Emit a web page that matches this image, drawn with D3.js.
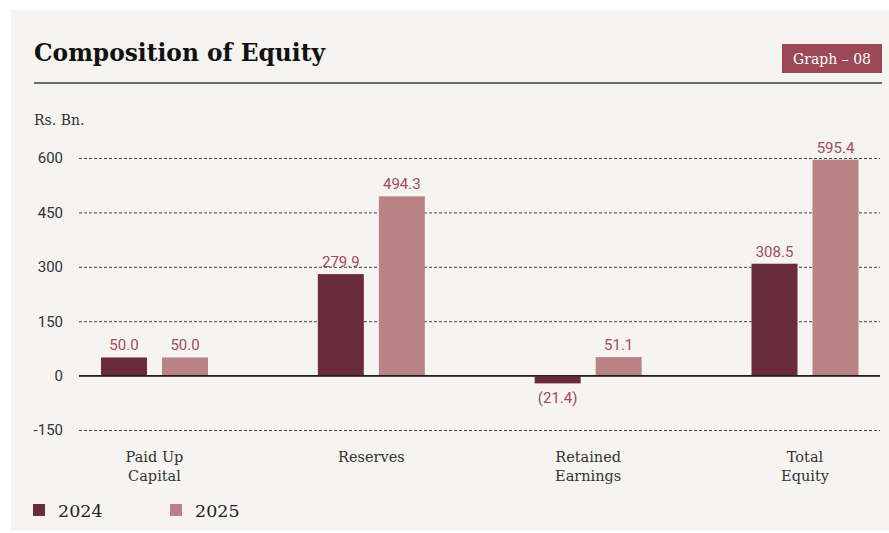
<!DOCTYPE html>
<html>
<head>
<meta charset="utf-8">
<script src="https://cdn.jsdelivr.net/npm/d3@7"></script>
<style>
  body { margin: 0; background: #ffffff; }
</style>
</head>
<body>
<div id="chart-area"></div>
<script>
let categories = [['Paid Up', 'Capital'], ['Reserves'], ['Retained', 'Earnings'], ['Total', 'Equity']]
let years = ['2024', '2025']
let values2024 = [50.0, 279.9, -21.4, 308.5]
let values2025 = [50.0, 494.3, 51.1, 595.4]
let yTicks = [-150, 0, 150, 300, 450, 600]

let width = 889
let height = 533

let colors = { '2024': '#6a2c38', '2025': '#ba8385' }
let slab = "'DejaVu Serif', 'Liberation Serif', serif"
let sans = "Roboto, 'Noto Sans', sans-serif"

let svg = d3.select('#chart-area').append('svg')
	.attr('width', width)
	.attr('height', height)

// panel
svg.append('rect')
	.attr('x', 11).attr('y', 10)
	.attr('width', width - 11).attr('height', 521)
	.attr('fill', '#f5f4f0')

// header
svg.append('text')
	.attr('x', 34).attr('y', 61)
	.attr('font-family', slab)
	.attr('font-weight', 'bold')
	.attr('font-size', 25)
	.attr('textLength', 291)
	.attr('lengthAdjust', 'spacingAndGlyphs')
	.attr('fill', '#111')
	.text('Composition of Equity')

svg.append('rect')
	.attr('x', 782).attr('y', 44)
	.attr('width', 100).attr('height', 29)
	.attr('fill', '#9b4857')

svg.append('text')
	.attr('x', 832).attr('y', 64)
	.attr('text-anchor', 'middle')
	.attr('font-family', slab)
	.attr('font-size', 14)
	.attr('fill', '#fff')
	.text('Graph – 08')

svg.append('line')
	.attr('x1', 34).attr('x2', 882)
	.attr('y1', 83).attr('y2', 83)
	.attr('stroke', '#6b6b6b')
	.attr('stroke-width', 2)

svg.append('text')
	.attr('x', 34).attr('y', 125)
	.attr('font-family', slab)
	.attr('font-size', 14)
	.attr('fill', '#333')
	.text('Rs. Bn.')

// scales
let y = d3.scaleLinear()
	.domain([-150, 600])
	.range([430, 158])

let x0 = d3.scalePoint()
	.domain(d3.range(categories.length))
	.range([154.5, 805])

let x1 = d3.scaleBand()
	.domain(years)
	.range([-53.5, 53.5])
	.paddingInner(0.246)

let gridLeft = 79
let gridRight = 880

// grid + y axis
let yAxisGroup = svg.append('g')
	.attr('transform', 'translate(' + gridLeft + ', 0)')
	.call(d3.axisLeft(y)
		.tickValues(yTicks)
		.tickFormat(d => String(d))
		.tickSize(-(gridRight - gridLeft))
		.tickPadding(16))

yAxisGroup.select('.domain').remove()
yAxisGroup.selectAll('.tick line')
	.attr('stroke', d => d == 0 ? '#222' : '#444')
	.attr('stroke-width', d => d == 0 ? 1.3 : 1)
	.attr('stroke-dasharray', d => d == 0 ? null : '3,2')
yAxisGroup.selectAll('.tick text')
	.attr('font-family', sans)
	.attr('font-size', 15)
	.attr('fill', '#333')

// bars
let rows = []
categories.forEach((c, i) => {
	rows.push({ cat: i, year: '2024', value: values2024[i] })
	rows.push({ cat: i, year: '2025', value: values2025[i] })
})

let bars = svg.append('g')

bars.selectAll('rect')
	.data(rows)
	.enter()
	.append('rect')
		.attr('x', d => x0(d.cat) + x1(d.year))
		.attr('y', d => y(Math.max(0, d.value)))
		.attr('width', x1.bandwidth())
		.attr('height', d => Math.abs(y(d.value) - y(0)))
		.attr('fill', d => colors[d.year])

// zero line on top
svg.append('line')
	.attr('x1', gridLeft).attr('x2', gridRight)
	.attr('y1', y(0)).attr('y2', y(0))
	.attr('stroke', '#222')
	.attr('stroke-width', 1.3)

bars.selectAll('text')
	.data(rows)
	.enter()
	.append('text')
		.attr('x', d => x0(d.cat) + x1(d.year) + x1.bandwidth() / 2)
		.attr('y', d => d.value >= 0 ? y(d.value) - 7 : y(d.value) + 20)
		.attr('text-anchor', 'middle')
		.attr('font-family', sans)
		.attr('font-size', 15)
		.attr('fill', '#a04c5d')
		.text(d => d.value < 0 ? '(' + Math.abs(d.value).toFixed(1) + ')' : d.value.toFixed(1))

// category labels
let catLabels = svg.append('g')
	.selectAll('text')
	.data(categories)
	.enter()
	.append('text')
		.attr('x', (d, i) => x0(i))
		.attr('y', 462)
		.attr('text-anchor', 'middle')
		.attr('font-family', slab)
		.attr('font-size', 14.5)
		.attr('fill', '#333')

catLabels.selectAll('tspan')
	.data(d => d)
	.enter()
	.append('tspan')
		.attr('x', function () { return d3.select(this.parentNode).attr('x') })
		.attr('dy', (d, i) => i == 0 ? 0 : 19)
		.text(d => d)

// legend
let legend = svg.append('g')
	.selectAll('g')
	.data(years)
	.enter()
	.append('g')
		.attr('transform', (d, i) => 'translate(' + (33 + i * 137) + ', 504)')

legend.append('rect')
	.attr('width', 12).attr('height', 12)
	.attr('fill', d => colors[d])

legend.append('text')
	.attr('x', 25).attr('y', 13)
	.attr('font-family', slab)
	.attr('font-size', 17.5)
	.attr('fill', '#222')
	.text(d => d)
</script>
</body>
</html>
